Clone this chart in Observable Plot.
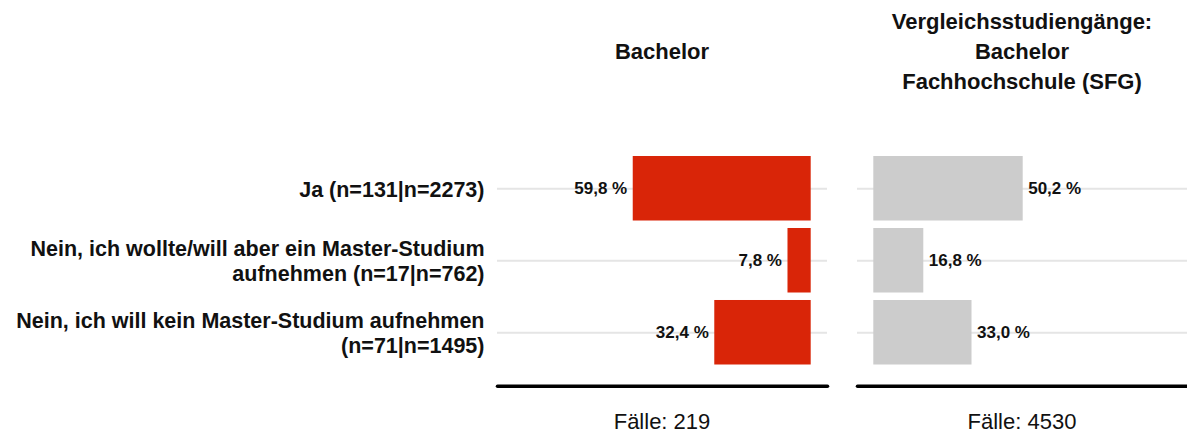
<!DOCTYPE html>
<html>
<head>
<meta charset="utf-8">
<script src="https://cdn.jsdelivr.net/npm/d3@7"></script>
<script src="https://cdn.jsdelivr.net/npm/@observablehq/plot@0.6"></script>
<style>
  html, body { margin: 0; padding: 0; background: #fff; }
  #wrap { position: relative; width: 1187px; height: 435px; overflow: hidden; }
  .abs { position: absolute; }
  .title { font-family: "Liberation Sans", Arial, sans-serif; font-weight: bold; font-size: 22px; line-height: 30px; text-align: center; color: #111; }
  .foot { font-family: "Liberation Sans", Arial, sans-serif; font-size: 22px; line-height: 30px; text-align: center; color: #111; }
</style>
</head>
<body>
<div id="wrap"></div>
<script>
// ---- data ----
const categories = [
  "Ja (n=131|n=2273)",
  "Nein, ich wollte/will aber ein Master-Studium\naufnehmen (n=17|n=762)",
  "Nein, ich will kein Master-Studium aufnehmen\n(n=71|n=1495)"
];
const bachelorValues = [59.8, 7.8, 32.4];
const vergleichValues = [50.2, 16.8, 33.0];
const panelTitles = ["Bachelor", "Vergleichsstudiengänge:\nBachelor\nFachhochschule (SFG)"];
const panelCases = ["Fälle: 219", "Fälle: 4530"];

const fmt = v => v.toFixed(1).replace(".", ",") + " %";
const rowsA = categories.map((c, i) => ({cat: c, value: bachelorValues[i]}));
const rowsB = categories.map((c, i) => ({cat: c, value: vergleichValues[i]}));

const H = 435;
const yScale = {domain: categories, range: [156, 364.5], paddingInner: 0.104, paddingOuter: 0, round: false, axis: null};
const numFont = "'Liberation Sans', Arial, sans-serif";
const catFont = "'Liberation Sans', Arial, sans-serif";

const wrap = document.getElementById("wrap");

// ---- left panel (bars grow leftwards) ----
const leftPlot = Plot.plot({
  width: 840,
  height: H,
  marginLeft: 497,
  marginRight: 840 - 827,
  marginTop: 156,
  marginBottom: H - 385.7,
  x: {domain: [0, 100], range: [810.7, 513.1], axis: null},
  y: yScale,
  style: {background: "transparent", overflow: "visible"},
  marks: [
    Plot.ruleY(rowsA, {y: "cat", stroke: "#e5e5e5", strokeWidth: 2}),
    Plot.barX(rowsA, {y: "cat", x1: 0, x2: "value", fill: "#d92508"}),
    Plot.text(rowsA, {y: "cat", x: "value", text: d => fmt(d.value), textAnchor: "end", dx: -6,
      fontSize: 17, fontWeight: "bold", fontFamily: numFont, fill: "#111"}),
    Plot.text(rowsA, {y: "cat", frameAnchor: "left", text: "cat", textAnchor: "end", dx: -13,
      fontSize: 21.5, fontWeight: "bold", fontFamily: catFont, lineHeight: 1.14, fill: "#111"}),
    Plot.frame({anchor: "bottom", stroke: "#000", strokeWidth: 3.5, strokeLinecap: "round"})
  ]
});
leftPlot.classList.add("abs");
leftPlot.style.left = "0px";
leftPlot.style.top = "0px";
wrap.appendChild(leftPlot);

// ---- right panel (bars grow rightwards) ----
const rightPlot = Plot.plot({
  width: 347,
  height: H,
  marginLeft: 17,
  marginRight: 0,
  marginTop: 156,
  marginBottom: H - 385.7,
  x: {domain: [0, 100], range: [873.3 - 840, 1170.9 - 840], axis: null},
  y: yScale,
  style: {background: "transparent", overflow: "visible"},
  marks: [
    Plot.ruleY(rowsB, {y: "cat", stroke: "#e5e5e5", strokeWidth: 2}),
    Plot.barX(rowsB, {y: "cat", x1: 0, x2: "value", fill: "#cccccc"}),
    Plot.text(rowsB, {y: "cat", x: "value", text: d => fmt(d.value), textAnchor: "start", dx: 5,
      fontSize: 17, fontWeight: "bold", fontFamily: numFont, fill: "#111"}),
    Plot.frame({anchor: "bottom", stroke: "#000", strokeWidth: 3.5, strokeLinecap: "round"})
  ]
});
rightPlot.classList.add("abs");
rightPlot.style.left = "840px";
rightPlot.style.top = "0px";
wrap.appendChild(rightPlot);

// ---- titles and case counts ----
function addText(cls, text, left, width, top) {
  const d = document.createElement("div");
  d.className = "abs " + cls;
  d.style.left = left + "px";
  d.style.width = width + "px";
  d.style.top = top + "px";
  d.innerHTML = text.split("\n").map(s => s.replace(/&/g, "&amp;").replace(/</g, "&lt;")).join("<br>");
  wrap.appendChild(d);
}
addText("title", panelTitles[0], 497, 330, 37);
addText("title", panelTitles[1], 857, 330, 7);
addText("foot", panelCases[0], 497, 330, 407);
addText("foot", panelCases[1], 857, 330, 407);
</script>
</body>
</html>
